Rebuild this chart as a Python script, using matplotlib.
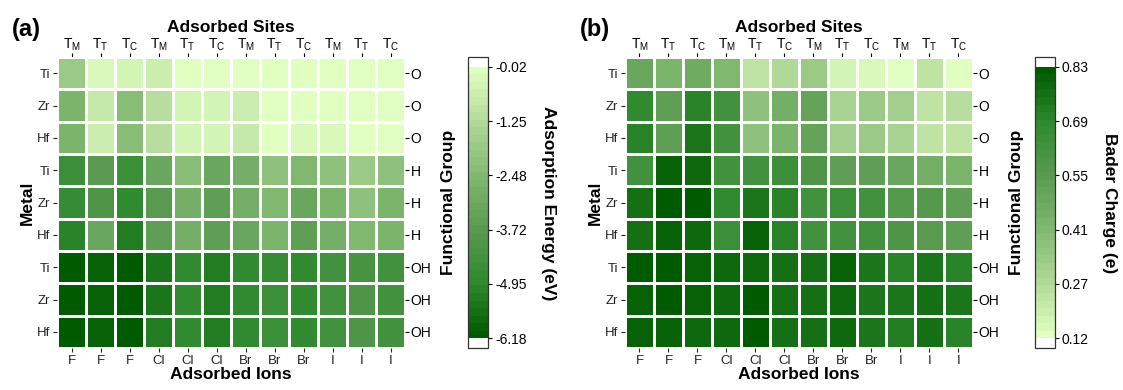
import numpy as np
import matplotlib.pyplot as plt
from matplotlib.colors import LinearSegmentedColormap

plt.rcParams['font.family'] = ['Liberation Sans', 'DejaVu Sans']
plt.rcParams['mathtext.fontset'] = 'custom'
plt.rcParams['mathtext.rm'] = 'Liberation Sans'
plt.rcParams['mathtext.it'] = 'Liberation Sans:italic'
plt.rcParams['mathtext.bf'] = 'Liberation Sans:bold'
plt.rcParams['axes.unicode_minus'] = False

# row / column labels
metals = ['Ti', 'Zr', 'Hf', 'Ti', 'Zr', 'Hf', 'Ti', 'Zr', 'Hf']
groups = ['O', 'O', 'O', 'H', 'H', 'H', 'OH', 'OH', 'OH']
ions = ['F', 'F', 'F', 'Cl', 'Cl', 'Cl', 'Br', 'Br', 'Br', 'I', 'I', 'I']
sites = [r'$\mathrm{T_M}$', r'$\mathrm{T_T}$', r'$\mathrm{T_C}$'] * 4

# (a) adsorption energy (eV)
energy = [
    [-1.87, -0.33, -0.45, -0.64, -0.08, -0.08, -0.14, -0.08, -0.08, -0.08, -0.08, -0.02],
    [-2.67, -0.76, -2.36, -1.13, -0.51, -0.45, -0.64, -0.14, -0.08, -0.08, -0.08, -0.05],
    [-2.61, -0.70, -2.30, -1.07, -0.51, -0.39, -0.82, -0.08, -0.33, -0.33, -0.08, -0.05],
    [-4.52, -3.72, -4.52, -3.22, -2.30, -3.16, -2.79, -2.11, -2.48, -2.24, -1.87, -2.24],
    [-4.76, -4.09, -4.89, -3.72, -2.92, -3.53, -2.92, -2.48, -3.10, -2.67, -2.24, -2.73],
    [-5.07, -3.22, -5.32, -3.53, -2.85, -3.47, -3.10, -2.67, -3.47, -2.79, -2.48, -2.67],
    [-6.18, -5.93, -6.18, -5.38, -4.95, -5.32, -4.95, -4.70, -4.95, -4.46, -4.15, -4.39],
    [-6.12, -5.87, -6.15, -5.38, -4.95, -5.32, -4.89, -4.64, -4.82, -4.33, -4.09, -4.33],
    [-6.12, -5.93, -6.15, -5.32, -4.82, -5.32, -4.82, -4.64, -4.82, -4.39, -4.09, -4.39],
]

# (b) Bader charge (e)
charge = [
    [0.48, 0.43, 0.46, 0.41, 0.24, 0.27, 0.34, 0.17, 0.15, 0.124, 0.24, 0.13],
    [0.675, 0.534, 0.711, 0.619, 0.379, 0.456, 0.513, 0.294, 0.336, 0.315, 0.223, 0.244],
    [0.711, 0.534, 0.746, 0.619, 0.379, 0.428, 0.513, 0.315, 0.336, 0.294, 0.223, 0.223],
    [0.619, 0.810, 0.774, 0.619, 0.633, 0.647, 0.576, 0.534, 0.527, 0.478, 0.442, 0.428],
    [0.760, 0.831, 0.831, 0.675, 0.746, 0.711, 0.619, 0.647, 0.619, 0.569, 0.569, 0.534],
    [0.760, 0.810, 0.789, 0.647, 0.810, 0.711, 0.619, 0.619, 0.619, 0.576, 0.548, 0.534],
    [0.817, 0.817, 0.810, 0.789, 0.789, 0.760, 0.760, 0.803, 0.739, 0.711, 0.746, 0.711],
    [0.810, 0.817, 0.810, 0.789, 0.824, 0.753, 0.753, 0.789, 0.739, 0.739, 0.760, 0.739],
    [0.810, 0.796, 0.789, 0.775, 0.817, 0.760, 0.753, 0.789, 0.739, 0.725, 0.760, 0.711],
]

e_labels = ['-6.18', '-4.95', '-3.72', '-2.48', '-1.25', '-0.02']
c_labels = ['0.12', '0.27', '0.41', '0.55', '0.69', '0.83']

greens = ['#005a00', '#308a30', '#5a9a50', '#80b870', '#b0d898', '#e0ffc0']
cmap_a = LinearSegmentedColormap.from_list('grn', greens, N=36)
cmap_b = LinearSegmentedColormap.from_list('grn_r', greens[::-1], N=36)
for cm in (cmap_a, cmap_b):
    cm.set_over('white')
    cm.set_under('white')

fig = plt.figure(figsize=(11.23, 3.9), dpi=100)

W = 0.3099
Y0, H = 0.1077, 0.746


def panel(x0, data, cmap, vmin, vmax, tick_labels, cbar_x, cbar_label, cbar_lx, tag):
    ax = fig.add_axes([x0, Y0, W, H])
    data = np.array(data)
    mesh = ax.pcolormesh(data, cmap=cmap, vmin=vmin, vmax=vmax,
                         edgecolors='white', linewidth=1.8)
    ax.set_xlim(0, 12)
    ax.set_ylim(9, 0)
    for s in ax.spines.values():
        s.set_visible(False)
    xs = np.arange(12) + 0.5
    ys = np.arange(9) + 0.5
    ax.set_xticks(xs, ions)
    ax.set_yticks(ys, metals)
    ax.tick_params(labelsize=9.5, length=3, width=0.8, pad=2, colors='#222222')
    ax.set_xlabel('Adsorbed Ions', fontsize=12.5, fontweight='bold', labelpad=0)
    ax.set_ylabel('Metal', fontsize=12.5, fontweight='bold', labelpad=1)

    top = ax.secondary_xaxis('top')
    top.set_xticks(xs, sites)
    top.tick_params(labelsize=10, length=3, width=0.8, pad=0)
    top.set_xlabel('Adsorbed Sites', fontsize=12.5, fontweight='bold', labelpad=3)
    for s in top.spines.values():
        s.set_visible(False)

    right = ax.secondary_yaxis('right')
    right.set_yticks(ys, groups)
    right.tick_params(labelsize=10, length=3, width=0.8, pad=1)
    for s in right.spines.values():
        s.set_visible(False)

    fig.text(x0 + W + 0.0385, 0.48, 'Functional Group', rotation=90,
             fontsize=12.5, fontweight='bold', ha='center', va='center')

    cax = fig.add_axes([cbar_x, Y0, 0.0178, H])
    ticks = np.linspace(vmin, vmax, 6)
    cb = fig.colorbar(mesh, cax=cax, extend='both', extendrect=True,
                      extendfrac=0.036, ticks=ticks)
    cb.ax.set_yticklabels(tick_labels)
    cb.ax.tick_params(labelsize=10, length=3, width=0.8, pad=2)
    cb.outline.set_linewidth(0.9)
    cb.outline.set_edgecolor('#333333')
    fig.text(cbar_lx, 0.48, cbar_label, rotation=270, fontsize=12.5,
             fontweight='bold', ha='center', va='center')

    fig.text(x0 - 0.04, 0.925, tag, fontsize=17, fontweight='bold',
             ha='left', va='center')
    return ax


panel(0.0508, energy, cmap_a, -6.18, -0.02, e_labels, 0.4167,
      'Adsorption Energy (eV)', 0.488, '(a)')
panel(0.5565, charge, cmap_b, 0.124, 0.831, c_labels, 0.9216,
      'Bader Charge (e)', 0.988, '(b)')

fig.savefig('out.png', dpi=100)
